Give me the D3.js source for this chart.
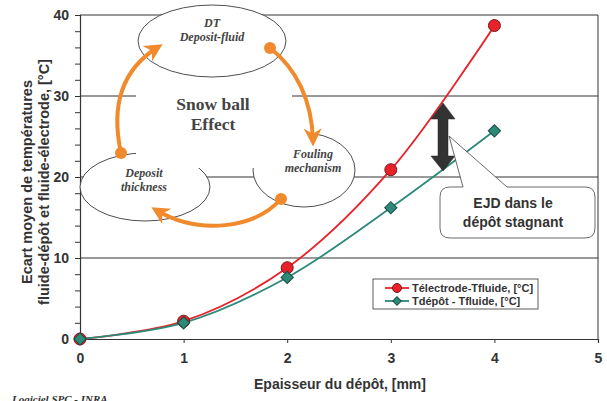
<!DOCTYPE html>
<html><head><meta charset="utf-8">
<script src="https://cdn.jsdelivr.net/npm/d3@7"></script>
<style>body{margin:0;background:#fff}svg{display:block}</style>
</head><body>
<svg id="c" width="607" height="401"></svg>
<script>
const thickness = [0, 1, 2, 3, 4];
const dtElectrode = [0, 2.2, 8.8, 20.9, 38.7];
const dtDepot = [0, 2.0, 7.6, 16.2, 25.7];
const xTicks = [0, 1, 2, 3, 4, 5];
const yTicks = [0, 10, 20, 30, 40];
const seriesNames = ["Télectrode-Tfluide, [°C]", "Tdépôt - Tfluide, [°C]"];

const svg = d3.select("#c");
const x = d3.scaleLinear().domain([0, 5]).range([80, 598]);
const y = d3.scaleLinear().domain([0, 40]).range([339, 15]);
const grey = "#333";

// gridlines
svg.append("g").selectAll("line").data(yTicks.filter(d => d > 0)).join("line")
  .attr("x1", x(0)).attr("x2", x(5)).attr("y1", d => y(d)).attr("y2", d => y(d))
  .attr("stroke", grey).attr("stroke-width", 1);
// right border
svg.append("line").attr("x1", x(5)).attr("x2", x(5)).attr("y1", y(40)).attr("y2", y(0))
  .attr("stroke", grey);

// axes
const yAxis = svg.append("g").attr("transform", `translate(${x(0)},0)`)
  .call(d3.axisLeft(y).tickValues(d3.range(0, 41, 2)).tickSize(5)
    .tickFormat(d => yTicks.includes(d) ? d : ""));
const xAxis = svg.append("g").attr("transform", `translate(0,${y(0)})`)
  .call(d3.axisBottom(x).tickValues(xTicks).tickSize(4).tickFormat(d3.format("d")));
[yAxis, xAxis].forEach(a => {
  a.select(".domain").attr("stroke", grey).attr("stroke-width", 1.2);
  a.selectAll(".tick line").attr("stroke", grey);
  a.selectAll("text").attr("fill", grey).attr("font-family", "Liberation Sans, Arial")
    .attr("font-weight", "bold").attr("font-size", 14);
});
yAxis.selectAll("text").attr("x", -11);
xAxis.selectAll("text").attr("y", 14);

// axis titles
svg.append("text").attr("x", 340).attr("y", 389).attr("text-anchor", "middle")
  .attr("font-family", "Liberation Sans, Arial").attr("font-weight", "bold").attr("font-size", 14)
  .attr("fill", grey).text("Epaisseur du dépôt, [mm]");
const yt = svg.append("text").attr("transform", "translate(0,182) rotate(-90)")
  .attr("text-anchor", "middle").attr("font-family", "Liberation Sans, Arial")
  .attr("font-weight", "bold").attr("font-size", 14.5).attr("fill", grey);
yt.append("tspan").attr("x", 0).attr("y", 32).text("Ecart moyen de températures");
yt.append("tspan").attr("x", 0).attr("y", 49).text("fluide-dépôt et fluide-électrode, [°C]");

svg.append("text").attr("x", 12).attr("y", 403).attr("font-family", "Liberation Serif, Times New Roman")
  .attr("font-style", "italic").attr("font-weight", "bold").attr("font-size", 11).attr("fill", grey)
  .text("Logiciel SPC - INRA");

// series
const red = "#e8222a", green = "#2b8a78";
const line = (vals) => d3.line().x((d, i) => x(thickness[i])).y(d => y(d)).curve(d3.curveCatmullRom.alpha(0.5))(vals);
svg.append("path").attr("d", line(dtElectrode)).attr("fill", "none").attr("stroke", red).attr("stroke-width", 1.8);
svg.append("path").attr("d", line(dtDepot)).attr("fill", "none").attr("stroke", green).attr("stroke-width", 1.8);
svg.append("g").selectAll("circle").data(dtElectrode).join("circle")
  .attr("cx", (d, i) => x(thickness[i])).attr("cy", d => y(d)).attr("r", 6)
  .attr("fill", red).attr("stroke", "#7a1a1a").attr("stroke-width", 1);
const diamond = d3.symbol().type(d3.symbolSquare).size(75);
svg.append("g").selectAll("path").data(dtDepot).join("path")
  .attr("d", diamond)
  .attr("transform", (d, i) => `translate(${x(thickness[i])},${y(d)}) rotate(45)`)
  .attr("fill", green).attr("stroke", "#1d4a40").attr("stroke-width", 1);

// Snow ball diagram
const orange = "#f08a2c";
const defs = svg.append("defs");
defs.append("marker").attr("id", "ah").attr("viewBox", "0 0 10 10").attr("refX", 7).attr("refY", 5)
  .attr("markerWidth", 4.5).attr("markerHeight", 4.5).attr("orient", "auto")
  .append("path").attr("d", "M0,0 L10,5 L0,10 L3,5 Z").attr("fill", orange);

const ell = (cx, cy, rx, ry) => svg.append("ellipse").attr("cx", cx).attr("cy", cy).attr("rx", rx).attr("ry", ry)
  .attr("fill", "#fff").attr("stroke", "#222").attr("stroke-width", 0.8);
ell(145, 187, 65, 34);
ell(304, 170, 51, 37);
svg.append("rect").attr("x", 136).attr("y", 78).attr("width", 156).attr("height", 90).attr("fill", "#fff");
svg.append("rect").attr("x", 290).attr("y", 118).attr("width", 20).attr("height", 50).attr("fill", "#fff");
ell(212, 41, 74, 36);

const dtxt = (lines, cx, cy, size, italic, gap) => {
  const t = svg.append("text").attr("text-anchor", "middle").attr("font-family", "Liberation Serif, Times New Roman")
    .attr("font-weight", "bold").attr("font-style", italic ? "italic" : "normal").attr("font-size", size).attr("fill", "#444");
  lines.forEach((l, i) => t.append("tspan").attr("x", cx).attr("y", cy + i * gap).text(l));
};
dtxt(["DT", "Deposit-fluid"], 212, 27, 12, true, 14);
dtxt(["Snow ball", "Effect"], 213, 110, 17.5, false, 20);
dtxt(["Fouling", "mechanism"], 313, 158, 12, true, 14);
dtxt(["Deposit", "thickness"], 144, 177, 12, true, 14);

const arrows = [
  ["M270,48 C296,68 312,100 313,141", [270, 48]],
  ["M281,199 C255,228 200,236 156,210", [281, 199]],
  ["M121,153 C112,112 118,72 158,47", [121, 153]]
];
arrows.forEach(([d, p]) => {
  svg.append("path").attr("d", d).attr("fill", "none").attr("stroke", orange).attr("stroke-width", 4)
    .attr("marker-end", "url(#ah)");
  svg.append("circle").attr("cx", p[0]).attr("cy", p[1]).attr("r", 6).attr("fill", orange);
});

// double arrow
svg.append("path").attr("d", "M443,103 L455,119 L448,119 L448,156 L455,156 L443,171 L431,156 L438,156 L438,119 L431,119 Z")
  .attr("fill", "#333").attr("stroke", "#222").attr("stroke-width", 0.5);

// callout
svg.append("path")
  .attr("d", "M450,187 L463,187 L449,136 L507,187 L585,187 Q595,187 595,197 L595,228 Q595,238 585,238 L450,238 Q440,238 440,228 L440,197 Q440,187 450,187 Z")
  .attr("fill", "#fff").attr("stroke", "#444").attr("stroke-width", 0.8);
const ct = svg.append("text").attr("text-anchor", "middle").attr("font-family", "Liberation Sans, Arial")
  .attr("font-weight", "bold").attr("font-size", 14).attr("fill", grey);
ct.append("tspan").attr("x", 513).attr("y", 208).text("EJD dans le");
ct.append("tspan").attr("x", 513).attr("y", 227).text("dépôt stagnant");

// legend
svg.append("rect").attr("x", 373).attr("y", 279).attr("width", 165).attr("height", 30)
  .attr("fill", "#fff").attr("stroke", "#333").attr("stroke-width", 0.8);
const lg = svg.append("g").selectAll("g").data(seriesNames).join("g")
  .attr("transform", (d, i) => `translate(385,${288 + i * 13})`);
lg.append("line").attr("x1", 0).attr("x2", 24).attr("stroke", (d, i) => i ? green : red).attr("stroke-width", 1.8);
lg.each(function (d, i) {
  const g = d3.select(this);
  if (i === 0) g.append("circle").attr("cx", 12).attr("r", 4.5).attr("fill", red).attr("stroke", "#7a1a1a");
  else g.append("path").attr("d", d3.symbol().type(d3.symbolSquare).size(36)).attr("transform", "translate(12,0) rotate(45)")
    .attr("fill", green).attr("stroke", "#1d4a40");
});
lg.append("text").attr("x", 27).attr("y", 4).attr("font-family", "Liberation Sans, Arial")
  .attr("font-weight", "bold").attr("font-size", 11).attr("fill", grey).text(d => d);
</script>
</body></html>
